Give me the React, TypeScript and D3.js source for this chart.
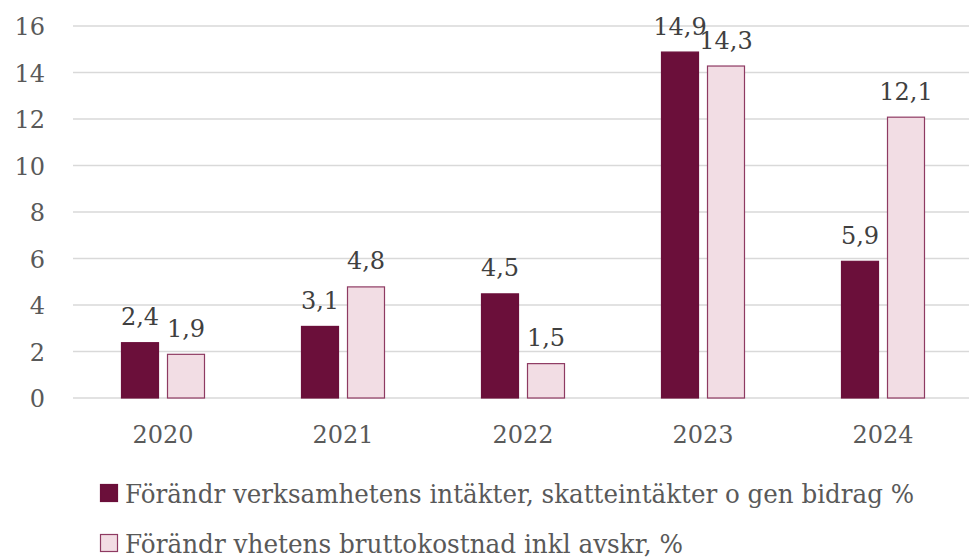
import React from "react";
import * as d3 from "d3";

const categories = ["2020", "2021", "2022", "2023", "2024"];
const seriesA = [2.4, 3.1, 4.5, 14.9, 5.9];
const seriesB = [1.9, 4.8, 1.5, 14.3, 12.1];
const seriesNames = [
  "Förändr verksamhetens intäkter, skatteintäkter o gen bidrag %",
  "Förändr vhetens bruttokostnad inkl avskr, %",
];
const yTicks = [0, 2, 4, 6, 8, 10, 12, 14, 16];

const W = 969;
const H = 557;
const FONT = "'DejaVu Serif', serif";
const DARK = "#6b0f3a";
const LIGHT = "#f2dde4";
const LIGHT_STROKE = "#8e3a62";

export default function App() {
  const x = d3.scaleBand<string>().domain(categories).range([73, 973]);
  const y = d3.scaleLinear().domain([0, 16]).range([398, 26]);
  const barW = 38;
  const gap = 8;
  const fmt = (v: number) => v.toFixed(1).replace(".", ",");

  const series = [
    { values: seriesA, fill: DARK, stroke: DARK, offset: -(barW + gap / 2) },
    { values: seriesB, fill: LIGHT, stroke: LIGHT_STROKE, offset: gap / 2 },
  ];

  return (
    <svg
      width={W}
      height={H}
      style={{ position: "absolute", left: 0, top: 0, background: "#fff" }}
    >
      {yTicks.map((t) => (
        <g key={t}>
          <line x1={73} x2={969} y1={y(t)} y2={y(t)} stroke="#d9d9d9" strokeWidth={1.3} />
          <text
            x={45}
            y={y(t) + 9}
            textAnchor="end"
            fontFamily={FONT}
            fontSize={24}
            fill="#595959"
          >
            {t}
          </text>
        </g>
      ))}
      {series.map((s, si) =>
        s.values.map((v, i) => {
          const cx = (x(categories[i]) as number) + x.bandwidth() / 2;
          const bx = cx + s.offset;
          return (
            <g key={`${si}-${i}`}>
              <rect
                x={bx + 0.5}
                y={y(v) + 0.5}
                width={barW - 1}
                height={y(0) - y(v) - 0.5}
                fill={s.fill}
                stroke={s.stroke}
                strokeWidth={1.2}
              />
              <text
                x={bx + barW / 2}
                y={y(v) - 17}
                textAnchor="middle"
                fontFamily={FONT}
                fontSize={24}
                fill="#404040"
              >
                {fmt(v)}
              </text>
            </g>
          );
        })
      )}
      {categories.map((c) => (
        <text
          key={c}
          x={(x(c) as number) + x.bandwidth() / 2}
          y={443}
          textAnchor="middle"
          fontFamily={FONT}
          fontSize={24}
          fill="#595959"
        >
          {c}
        </text>
      ))}
      {seriesNames.map((name, i) => {
        const ly = 493 + i * 50;
        const s = series[i];
        return (
          <g key={name}>
            <rect
              x={100.5}
              y={ly - 8.5}
              width={17}
              height={17}
              fill={s.fill}
              stroke={s.stroke}
              strokeWidth={1.2}
            />
            <text
              x={125}
              y={ly + 10}
              fontFamily={FONT}
              fontSize={26}
              fill="#595959"
              textLength={i === 0 ? 789 : 558}
              lengthAdjust="spacingAndGlyphs"
            >
              {name}
            </text>
          </g>
        );
      })}
    </svg>
  );
}
